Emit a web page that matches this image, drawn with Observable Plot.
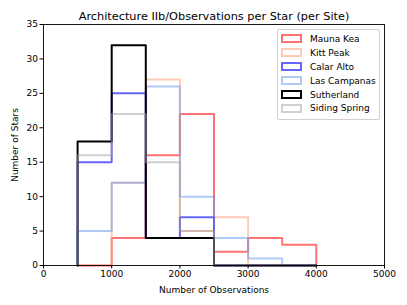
<!DOCTYPE html>
<html>
<head>
<meta charset="utf-8">
<script src="https://cdn.jsdelivr.net/npm/d3@7"></script>
<script src="https://cdn.jsdelivr.net/npm/@observablehq/plot@0.6"></script>
<style>
  html, body { margin: 0; padding: 0; background: #fff; }
  #wrap { position: relative; width: 407px; height: 305px; font-family: "DejaVu Sans", sans-serif; }
  #legend { position: absolute; left: 277px; top: 29px; width: 103px; padding: 2px 0 4px 0;
    background: rgba(255,255,255,0.85); border: 1px solid #d0d0d0; border-radius: 2px; box-sizing: border-box; }
  .row { display: flex; align-items: center; height: 13.9px; font-size: 9px; color: #000; white-space: nowrap; }
  .sw { width: 17px; height: 5px; margin: 0 8px 0 3px; border: 2px solid; background: #fff; box-sizing: content-box; }
</style>
</head>
<body>
<div id="wrap"></div>
<script>
const titleText = "Architecture IIb/Observations per Star (per Site)";
const xLabel = "Number of Observations";
const yLabel = "Number of Stars";
const binEdges = [500, 1000, 1500, 2000, 2500, 3000, 3500, 4000];
const xTicks = [0, 1000, 2000, 3000, 4000, 5000];
const yTicks = [0, 5, 10, 15, 20, 25, 30, 35];
const siteNames = ["Mauna Kea", "Kitt Peak", "Calar Alto", "Las Campanas", "Sutherland", "Siding Spring"];
const maunaKea     = [0, 4, 16, 22, 2, 4, 3];
const kittPeak     = [0, 12, 27, 5, 7, 0, 0];
const calarAlto    = [15, 25, 4, 7, 0, 0, 0];
const lasCampanas  = [5, 12, 26, 10, 4, 1, 0];
const sutherland   = [18, 32, 4, 4, 0, 0, 0];
const sidingSpring = [16, 22, 15, 5, 0, 0, 0];
const siteColors = ["red", "#ffa07a", "blue", "cornflowerblue", "black", "#a4a4a4"];
const siteOpacity = [0.55, 0.55, 0.6, 0.5, 1, 0.5];

const seriesValues = [maunaKea, kittPeak, calarAlto, lasCampanas, sutherland, sidingSpring];

function stepPoints(vals) {
  const pts = [{x: binEdges[0], y: 0}];
  vals.forEach((v, i) => pts.push({x: binEdges[i], y: v}));
  pts.push({x: binEdges[binEdges.length - 1], y: vals[vals.length - 1]});
  pts.push({x: binEdges[binEdges.length - 1], y: 0});
  return pts;
}

const lineMarks = seriesValues.map((vals, i) =>
  Plot.line(stepPoints(vals), {
    x: "x", y: "y", curve: "step-after",
    stroke: siteColors[i], strokeOpacity: siteOpacity[i], strokeWidth: 2
  })
);

const chart = Plot.plot({
  width: 407, height: 305,
  marginLeft: 43, marginRight: 23, marginTop: 24, marginBottom: 40,
  style: {fontFamily: "DejaVu Sans, sans-serif", fontSize: "9px", color: "#000", background: "#fff"},
  x: {domain: [0, 5000], ticks: xTicks, tickFormat: d => String(d)},
  y: {domain: [0, 35], ticks: yTicks},
  marks: [
    ...lineMarks,
    Plot.frame({stroke: "black", strokeWidth: 0.9}),
    Plot.axisX({ticks: xTicks, tickSize: 3.5, tickPadding: 2, tickFormat: d => String(d),
      label: xLabel, labelAnchor: "center", labelArrow: "none", labelOffset: 27}),
    Plot.axisY({ticks: yTicks, tickSize: 3.5, tickPadding: 2,
      label: yLabel, labelAnchor: "center", labelArrow: "none", labelOffset: 32}),
    Plot.text([titleText], {text: d => d, frameAnchor: "top", dy: -5, lineAnchor: "bottom", fontSize: 11.3})
  ]
});

const wrap = document.getElementById("wrap");
wrap.appendChild(chart);

const legend = document.createElement("div");
legend.id = "legend";
siteNames.forEach((name, i) => {
  const row = document.createElement("div");
  row.className = "row";
  const sw = document.createElement("span");
  sw.className = "sw";
  sw.style.borderColor = siteColors[i];
  sw.style.opacity = siteOpacity[i];
  row.appendChild(sw);
  const t = document.createElement("span");
  t.textContent = name;
  row.appendChild(t);
  legend.appendChild(row);
});
wrap.appendChild(legend);
</script>
</body>
</html>
